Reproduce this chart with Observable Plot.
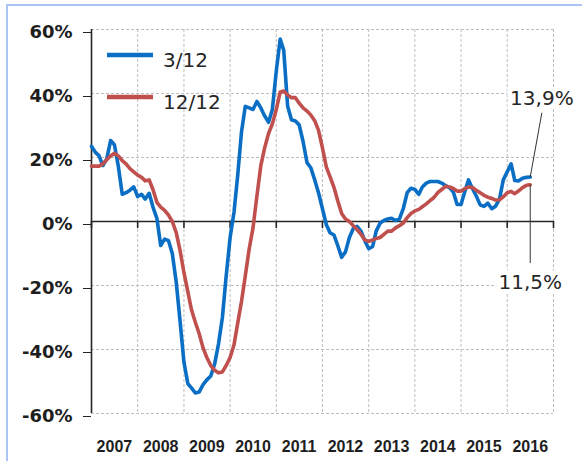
<!DOCTYPE html>
<html><head><meta charset="utf-8">
<script src="https://cdn.jsdelivr.net/npm/d3@7"></script>
<script src="https://cdn.jsdelivr.net/npm/@observablehq/plot@0.6"></script>
<style>
html,body{margin:0;padding:0;background:#fff;}
#wrap{position:relative;width:582px;height:461px;overflow:hidden;background:#fff;}
#chart{position:absolute;left:0;top:0;}
#border{position:absolute;left:6px;top:4px;width:700px;height:700px;border:2px solid #a9c4f5;box-sizing:border-box;pointer-events:none;}
</style></head><body>
<div id="wrap"><div id="chart"></div><div id="border"></div></div>
<script>
const seriesNames = ["3/12", "12/12"];
const seriesColors = ["#0a6fc4", "#c0504d"];
const yearLabels = [2007, 2008, 2009, 2010, 2011, 2012, 2013, 2014, 2015, 2016];
const yTicks = [-60, -40, -20, 0, 20, 40, 60];
// monthly values, Jan 2007 .. Jul 2016
const values3_12 = [
  23.5, 21.6, 20.6, 17.5, 19.5, 25.3, 24, 17.3, 8.5, 9, 9.8, 10.8,
  7.8, 8.5, 7, 8.8, 4.5, 1, -7.5, -5.5, -6, -10, -19, -31,
  -44, -50.7, -52, -53.6, -53.3, -51, -49.5, -48.3, -44.5, -38.3, -30, -17,
  -5, 3, 14, 28, 36, 35.5, 35, 37.5, 35.5, 33, 31, 35,
  47, 57, 53.5, 36, 31.8, 31.4, 30.2, 25, 18.4, 16.8, 13, 9,
  4, -1, -3.5, -4.2, -7.5, -11.2, -9.5, -5, -2.2, -1.5, -3, -6,
  -8.5, -7.8, -3, -0.5, 0.3, 0.8, 1, 0.3, 0.8, 4, 9, 10.4,
  10, 8.5, 10.8, 12, 12.5, 12.5, 12.5, 12, 11.2, 10.6, 9.2, 5.3,
  5.3, 9.5, 13, 10.3, 8, 5.2, 4.7, 5.7, 4, 4.8, 7, 13,
  15.5, 18, 12.8, 12.7, 13.5, 13.8, 13.9
];
const values12_12 = [
  17.3, 17.3, 17.3, 18, 19.3, 20.5, 21.3, 20.5, 19, 18, 16.5, 15.5,
  14.5, 13.8, 12.7, 13, 10, 6, 4.5, 3.5, 2, 0, -3.5, -9,
  -16, -22, -27.5, -31.5, -35, -39.5, -42.5, -45, -46.5, -47.3, -47, -45,
  -42.5, -38.5, -32, -25, -17, -8.5, -2, 8, 17.5, 23, 27.5, 30.5,
  35, 40.5, 40.8, 39.5, 38.7, 38.7, 37, 35.5, 34.5, 33.3, 31.5, 28.5,
  23, 17, 14, 10.7, 6.5, 2.5, 0.8, 0, -1.3, -2.5, -4, -5.8,
  -6.2, -5.8, -5.3, -5, -4, -3, -3, -2, -1.3, -0.5, 1.2, 2.5,
  3.3, 3.8, 4.6, 5.5, 6.5, 7.5, 9, 10, 11, 10.8, 10.3, 9.5,
  9.5, 10.3, 10.8, 10.6, 9.8, 9, 8.2, 7.6, 7.2, 6.7, 6.8, 7.7,
  9, 9.4, 8.7, 9.6, 10.6, 11.3, 11.5
];
const endLabels = ["13,9%", "11,5%"];
const leaderEndValues = [34, -13];
const leaderMonthShift = [2, -1];

const month = i => new Date(Date.UTC(2007, i, 1));
const table = [];
values3_12.forEach((v, i) => table.push({date: month(i), value: v, series: seriesNames[0]}));
values12_12.forEach((v, i) => table.push({date: month(i), value: v, series: seriesNames[1]}));

const yearStarts = d3.range(2007, 2018).map(y => new Date(Date.UTC(y, 0, 1)));
const midYears = yearLabels.map(y => new Date(Date.UTC(y, 6, 1)));

const n = values3_12.length;
const lastVals = [values3_12[n - 1], values12_12[n - 1]];
const annotations = endLabels.map((t, k) => ({
  text: t,
  x1: month(n - 1), y1: lastVals[k],
  x2: month(n + leaderMonthShift[k]), y2: leaderEndValues[k]
}));

const tickShape = {draw(ctx, l) { ctx.moveTo(0, 0); ctx.lineTo(0, -l); }};
const labelStyle = {x: "x2", y: "y2", text: "text", fontSize: 20, fontFamily: "DejaVu Sans",
  fill: "#262626", stroke: "white", strokeWidth: 10, textAnchor: "middle"};

const plot = Plot.plot({
  width: 582,
  height: 461,
  marginLeft: 91,
  marginRight: 29,
  marginTop: 29,
  marginBottom: 48,
  style: {background: "transparent", fontFamily: "DejaVu Sans"},
  x: {type: "utc", domain: [yearStarts[0], yearStarts[yearStarts.length - 1]]},
  y: {domain: [yTicks[0], yTicks[yTicks.length - 1]]},
  color: {domain: seriesNames, range: seriesColors},
  marks: [
    Plot.gridY(yTicks.filter(d => d !== 0), {stroke: "#bdbdbd", strokeOpacity: 1, strokeDasharray: "3,2"}),
    Plot.gridX(yearStarts.slice(1), {stroke: "#bdbdbd", strokeOpacity: 1, strokeDasharray: "3,2"}),
    Plot.axisY({
      ticks: yTicks, tickSize: 8, tickPadding: 11, stroke: "#222",
      tickFormat: d => `${d}%`, fontSize: 18, fontWeight: "bold", fill: "#1e1e1e",
      fontFamily: "DejaVu Sans", dy: 3, label: null
    }),
    Plot.axisX({
      ticks: midYears, tickSize: 0, tickPadding: 27,
      tickFormat: d => String(d.getUTCFullYear()), fontSize: 16, fontWeight: "bold",
      fill: "#1e1e1e", fontFamily: "Liberation Sans", label: null
    }),
    Plot.ruleX([yearStarts[0]], {stroke: "#262626", strokeWidth: 1.6}),
    Plot.ruleY([0], {stroke: "#262626", strokeWidth: 1.6}),
    Plot.vector(yearStarts, {x: d => d, y: () => 0, length: 6, rotate: 180, anchor: "start",
      shape: tickShape, stroke: "#262626", strokeWidth: 1.6}),
    Plot.line(table, {x: "date", y: "value", stroke: "series", z: "series",
      strokeWidth: 3.6, strokeLinejoin: "round", strokeLinecap: "round"}),
    Plot.link(annotations, {x1: "x1", y1: "y1", x2: "x2", y2: "y2", stroke: "#333", strokeWidth: 1}),
    Plot.text(annotations.slice(0, 1), {...labelStyle, dy: -14}),
    Plot.text(annotations.slice(1, 2), {...labelStyle, dy: 19})
  ]
});

document.getElementById("chart").appendChild(plot);

// legend
const svg = d3.select(plot);
const lg = svg.append("g").attr("text-anchor", "start");
seriesNames.forEach((name, i) => {
  const y = 55 + i * 42;
  lg.append("line").attr("x1", 107).attr("x2", 153).attr("y1", y).attr("y2", y)
    .attr("stroke", seriesColors[i]).attr("stroke-width", 4.5);
  lg.append("text").attr("x", 163).attr("y", y + 12).text(name)
    .attr("font-size", 20).attr("font-family", "DejaVu Sans").attr("fill", "#262626");
});
</script>
</body></html>
